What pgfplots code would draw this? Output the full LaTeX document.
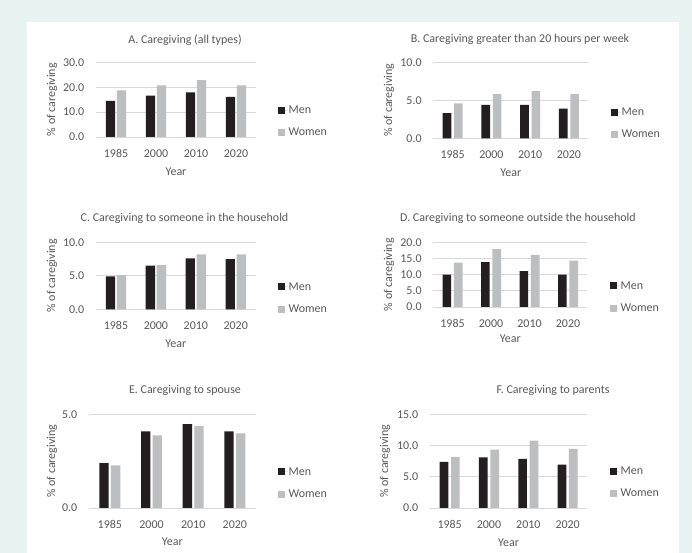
\documentclass[border=0pt]{standalone}
\usepackage{fontspec}
\setmainfont{Carlito}
\usepackage{pgfplots}
\pgfplotsset{compat=1.18}
\definecolor{mint}{HTML}{E9F3F1}
\definecolor{menc}{HTML}{231F20}
\definecolor{womenc}{HTML}{BCBEC0}
\definecolor{gridc}{HTML}{D9D9D9}
\definecolor{txt}{HTML}{595959}
\newcommand{\fs}{\fontsize{12}{14}\selectfont}
\pgfplotsset{
 panel/.style={
  scale only axis,
  anchor=south west,
  xmin=-0.5, xmax=3.5,
  ymin=0,
  xtick={0,1,2,3},
  xticklabels={1985,2000,2010,2020},
  axis lines*=left,
  x axis line style={draw=gridc, line width=0.75bp},
  y axis line style={draw=none},
  major tick length=0pt,
  ymajorgrids,
  major grid style={draw=gridc, line width=0.75bp},
  tick label style={font=\fs, text=txt},
  /pgf/number format/.cd, fixed, fixed zerofill, precision=1, assume math mode=true, /pgfplots/.cd,
  xticklabel style={anchor=center, yshift=-16.3bp},
  yticklabel style={anchor=east, inner sep=0pt, xshift=-11.5bp},
  xlabel={Year},
  ylabel={\% of caregiving},
  label style={font=\fs, text=txt},
  legend style={draw=none, fill=none, at={(axis description cs:1,0)}, anchor=west,
     font=\fs, text=txt, row sep=11bp, inner sep=0pt, nodes={inner sep=1bp}},
  legend cell align=left,
 },
 sq/.style={legend image code/.code={\fill[##1,draw=none] (0bp,-3.5bp) rectangle (7bp,3.5bp); \path (0bp,0bp) -- (9.5bp,0bp);}},
}
\begin{document}
\begin{tikzpicture}
\fill[mint] (0,0) rectangle (692bp,553bp);
\fill[white] (27bp,0) rectangle (679bp,531bp);

% A
\begin{axis}[panel, at={(96bp,416bp)}, width=160bp, height=74.7bp, ymax=30, ytick={0,10,20,30},
  ybar=1.7bp, bar width=9.3bp, sq,
  xlabel style={at={(axis description cs:0.5,-0.4685)}, anchor=center},
  ylabel style={at={(axis description cs:-0.275,0.5)}, anchor=center},
  legend style={xshift=22bp, yshift=15.5bp}]
\addplot[fill=menc, draw=none] coordinates {(0,14.5) (1,16.6) (2,17.9) (3,16.1)};
\addplot[fill=womenc, draw=none] coordinates {(0,18.7) (1,20.7) (2,22.8) (3,20.7)};
\legend{Men,Women}
\end{axis}
\node[font=\fs, text=txt] at (185bp,513bp) {A. Caregiving (all types)};

% B
\begin{axis}[panel, at={(433.3bp,414.7bp)}, width=155bp, height=76bp, ymax=10, ytick={0,5,10},
  ybar=2.7bp, bar width=8.7bp, sq,
  xlabel style={at={(axis description cs:0.5,-0.457)}, anchor=center},
  ylabel style={at={(axis description cs:-0.286,0.5)}, anchor=center},
  legend style={xshift=22.7bp, yshift=14.8bp}]
\addplot[fill=menc, draw=none] coordinates {(0,3.3) (1,4.4) (2,4.4) (3,3.9)};
\addplot[fill=womenc, draw=none] coordinates {(0,4.6) (1,5.8) (2,6.2) (3,5.8)};
\legend{Men,Women}
\end{axis}
\node[font=\fs, text=txt] at (520bp,514bp) {B. Caregiving greater than 20 hours per week};

% C
\begin{axis}[panel, at={(96bp,243.7bp)}, width=159.7bp, height=67bp, ymax=10, ytick={0,5,10},
  ybar=1.7bp, bar width=9.3bp, sq,
  xlabel style={at={(axis description cs:0.5,-0.518)}, anchor=center},
  ylabel style={at={(axis description cs:-0.2755,0.5)}, anchor=center},
  legend style={xshift=22.3bp, yshift=11.3bp}]
\addplot[fill=menc, draw=none] coordinates {(0,4.9) (1,6.5) (2,7.6) (3,7.5)};
\addplot[fill=womenc, draw=none] coordinates {(0,5.1) (1,6.6) (2,8.2) (3,8.2)};
\legend{Men,Women}
\end{axis}
\node[font=\fs, text=txt] at (184.5bp,335bp) {C. Caregiving to someone in the household};

% D
\begin{axis}[panel, at={(433.3bp,246bp)}, width=154bp, height=64.7bp, ymax=20, ytick={0,5,10,15,20},
  ybar=2.7bp, bar width=8.7bp, sq,
  xlabel style={at={(axis description cs:0.5,-0.495)}, anchor=center},
  ylabel style={at={(axis description cs:-0.2877,0.5)}, anchor=center},
  legend style={xshift=22.7bp, yshift=10bp}]
\addplot[fill=menc, draw=none] coordinates {(0,10.0) (1,13.9) (2,11.1) (3,10.0)};
\addplot[fill=womenc, draw=none] coordinates {(0,13.7) (1,17.9) (2,16.1) (3,14.3)};
\legend{Men,Women}
\end{axis}
\node[font=\fs, text=txt] at (518bp,335bp) {D. Caregiving to someone outside the household};

% E
\begin{axis}[panel, at={(89bp,45bp)}, width=166.7bp, height=93.7bp, ymax=5, ytick={0,5},
  ybar=2.3bp, bar width=9.3bp, sq,
  xlabel style={at={(axis description cs:0.5,-0.36)}, anchor=center},
  ylabel style={at={(axis description cs:-0.222,0.5)}, anchor=center},
  legend style={xshift=22.3bp, yshift=25bp}]
\addplot[fill=menc, draw=none] coordinates {(0,2.40) (1,4.09) (2,4.48) (3,4.09)};
\addplot[fill=womenc, draw=none] coordinates {(0,2.28) (1,3.88) (2,4.38) (3,3.98)};
\legend{Men,Women}
\end{axis}
\node[font=\fs, text=txt] at (185bp,163bp) {E. Caregiving to spouse};

% F
\begin{axis}[panel, at={(430bp,45bp)}, width=157.3bp, height=93.7bp, ymax=15, ytick={0,5,10,15},
  ybar=2.7bp, bar width=8.7bp, sq,
  xlabel style={at={(axis description cs:0.5,-0.370)}, anchor=center},
  ylabel style={at={(axis description cs:-0.286,0.5)}, anchor=center},
  legend style={xshift=22.7bp, yshift=25.5bp}]
\addplot[fill=menc, draw=none] coordinates {(0,7.37) (1,8.10) (2,7.85) (3,6.94)};
\addplot[fill=womenc, draw=none] coordinates {(0,8.17) (1,9.34) (2,10.78) (3,9.45)};
\legend{Men,Women}
\end{axis}
\node[font=\fs, text=txt] at (553bp,163bp) {F. Caregiving to parents};
\end{tikzpicture}
\end{document}
